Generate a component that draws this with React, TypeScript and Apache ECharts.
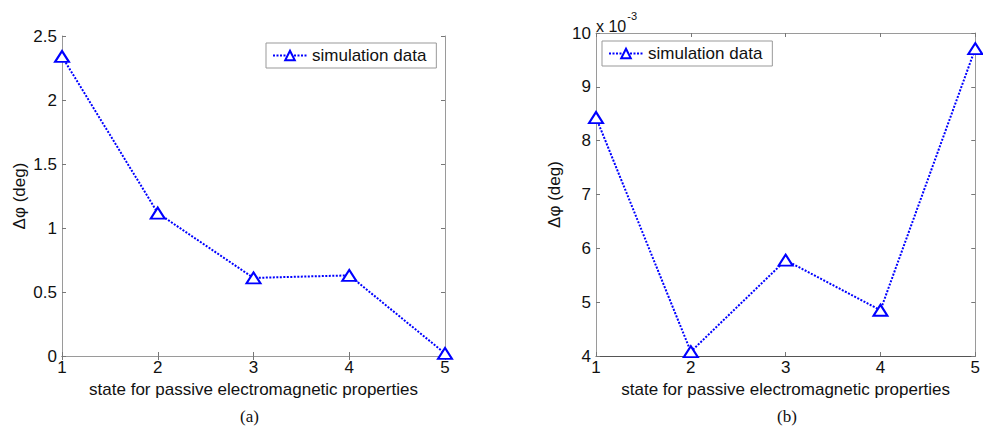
import React, { useEffect, useRef } from "react";
import * as echarts from "echarts";

// Data
const states = [1, 2, 3, 4, 5];
const deltaPhiA = [2.34, 1.117, 0.61, 0.63, 0.02]; // deg
const deltaPhiB = [8.43, 4.08, 5.78, 4.85, 9.71]; // x 10^-3 deg
const yTicksA = [0, 0.5, 1, 1.5, 2, 2.5];
const yTicksB = [4, 5, 6, 7, 8, 9, 10];
const seriesName = "simulation data";
const xTitle = "state for passive electromagnetic properties";
const yTitle = "Δφ (deg)";
const captions = ["(a)", "(b)"];

const FONT = "Liberation Sans, Arial, sans-serif";
const BLUE = "#0000ff";
const BOX = "#9a9a9a";
const FS = 17;

export default function App() {
  const ref = useRef<HTMLDivElement>(null);
  useEffect(() => {
    if (!ref.current) return;
    const chart = echarts.init(ref.current, null, { renderer: "svg" });
    const grids = [
      { left: 62, right: 538, top: 36, bottom: 73 },
      { left: 596, right: 5, top: 33, bottom: 73 },
    ];
    const yRanges = [
      { min: yTicksA[0], max: yTicksA[yTicksA.length - 1], interval: 0.5 },
      { min: yTicksB[0], max: yTicksB[yTicksB.length - 1], interval: 1 },
    ];
    const xAxes: any[] = [];
    const yAxes: any[] = [];
    grids.forEach((g, i) => {
      xAxes.push({
        type: "value",
        gridIndex: i,
        min: states[0],
        max: states[states.length - 1],
        interval: 1,
        position: "bottom",
        name: xTitle,
        nameLocation: "middle",
        nameGap: i === 0 ? 23 : 18,
        nameTextStyle: { color: "#111", fontSize: FS, fontFamily: FONT },
        axisLine: { show: true, lineStyle: { color: "#555", width: 1 } },
        axisTick: { show: true, inside: true, length: 4, lineStyle: { color: "#777" } },
        axisLabel: { color: "#111", fontSize: FS, fontFamily: FONT, margin: 3 },
        splitLine: { show: false },
      });
      xAxes.push({
        type: "value",
        gridIndex: i,
        min: states[0],
        max: states[states.length - 1],
        interval: 1,
        position: "top",
        axisLine: { show: true, lineStyle: { color: BOX, width: 1 } },
        axisTick: { show: true, inside: true, length: 4, lineStyle: { color: "#777" } },
        axisLabel: { show: false },
        splitLine: { show: false },
      });
      yAxes.push({
        type: "value",
        gridIndex: i,
        ...yRanges[i],
        position: "left",
        name: yTitle,
        nameLocation: "middle",
        nameGap: i === 0 ? 34 : 33,
        nameRotate: 90,
        nameTextStyle: { color: "#111", fontSize: FS, fontFamily: FONT },
        axisLine: { show: true, lineStyle: { color: BOX, width: 1 } },
        axisTick: { show: true, inside: true, length: 4, lineStyle: { color: "#777" } },
        axisLabel: { color: "#111", fontSize: FS, fontFamily: FONT, margin: 5 },
        splitLine: { show: false },
      });
      yAxes.push({
        type: "value",
        gridIndex: i,
        ...yRanges[i],
        position: "right",
        axisLine: { show: true, lineStyle: { color: BOX, width: 1 } },
        axisTick: { show: true, inside: true, length: 4, lineStyle: { color: "#777" } },
        axisLabel: { show: false },
        splitLine: { show: false },
      });
    });
    const mkSeries = (vals: number[], i: number) => ({
      type: "line",
      name: seriesName,
      xAxisIndex: i * 2,
      yAxisIndex: i * 2,
      data: states.map((s, k) => [s, vals[k]]),
      symbol: "emptyTriangle",
      symbolSize: [14, 11],
      lineStyle: { color: BLUE, width: 2, type: [2, 1.5] },
      itemStyle: { color: BLUE, borderColor: BLUE, borderWidth: 2 },
      clip: false,
    });
    const mkLegend = (left: number, top: number) => ({
      show: true,
      left,
      top,
      orient: "horizontal",
      backgroundColor: "#fff",
      borderColor: "#999",
      borderWidth: 1,
      borderRadius: 0,
      padding: [4, 10, 4, 6],
      itemWidth: 34,
      itemHeight: 12,
      itemGap: 8,
      textStyle: { color: "#111", fontSize: FS, fontFamily: FONT },
      data: [seriesName],
    });
    chart.setOption({
      animation: false,
      backgroundColor: "#fff",
      grid: grids.map((g) => ({ ...g, containLabel: false })),
      xAxis: xAxes,
      yAxis: yAxes,
      legend: [mkLegend(266, 43), mkLegend(602, 41)],
      series: [mkSeries(deltaPhiA, 0), mkSeries(deltaPhiB, 1)],
      graphic: [
        {
          type: "text",
          left: 240,
          top: 408,
          style: { text: captions[0], font: "17px 'Liberation Serif', 'Times New Roman', serif", fill: "#111" },
        },
        {
          type: "text",
          left: 777,
          top: 408,
          style: { text: captions[1], font: "17px 'Liberation Serif', 'Times New Roman', serif", fill: "#111" },
        },
        {
          type: "text",
          left: 596,
          top: 10,
          style: {
            text: "{b|x 10}{s|-3}",
            rich: {
              b: { fontSize: 16, fontFamily: FONT, fill: "#111", verticalAlign: "bottom", padding: [8, 0, 0, 0] },
              s: { fontSize: 11, fontFamily: FONT, fill: "#111", verticalAlign: "top", padding: [0, 0, 10, 1] },
            },
          },
        },
      ],
    });
    return () => chart.dispose();
  }, []);
  return (
    <div
      ref={ref}
      style={{ position: "fixed", left: 0, top: 0, width: 983, height: 429, background: "#fff" }}
    />
  );
}
